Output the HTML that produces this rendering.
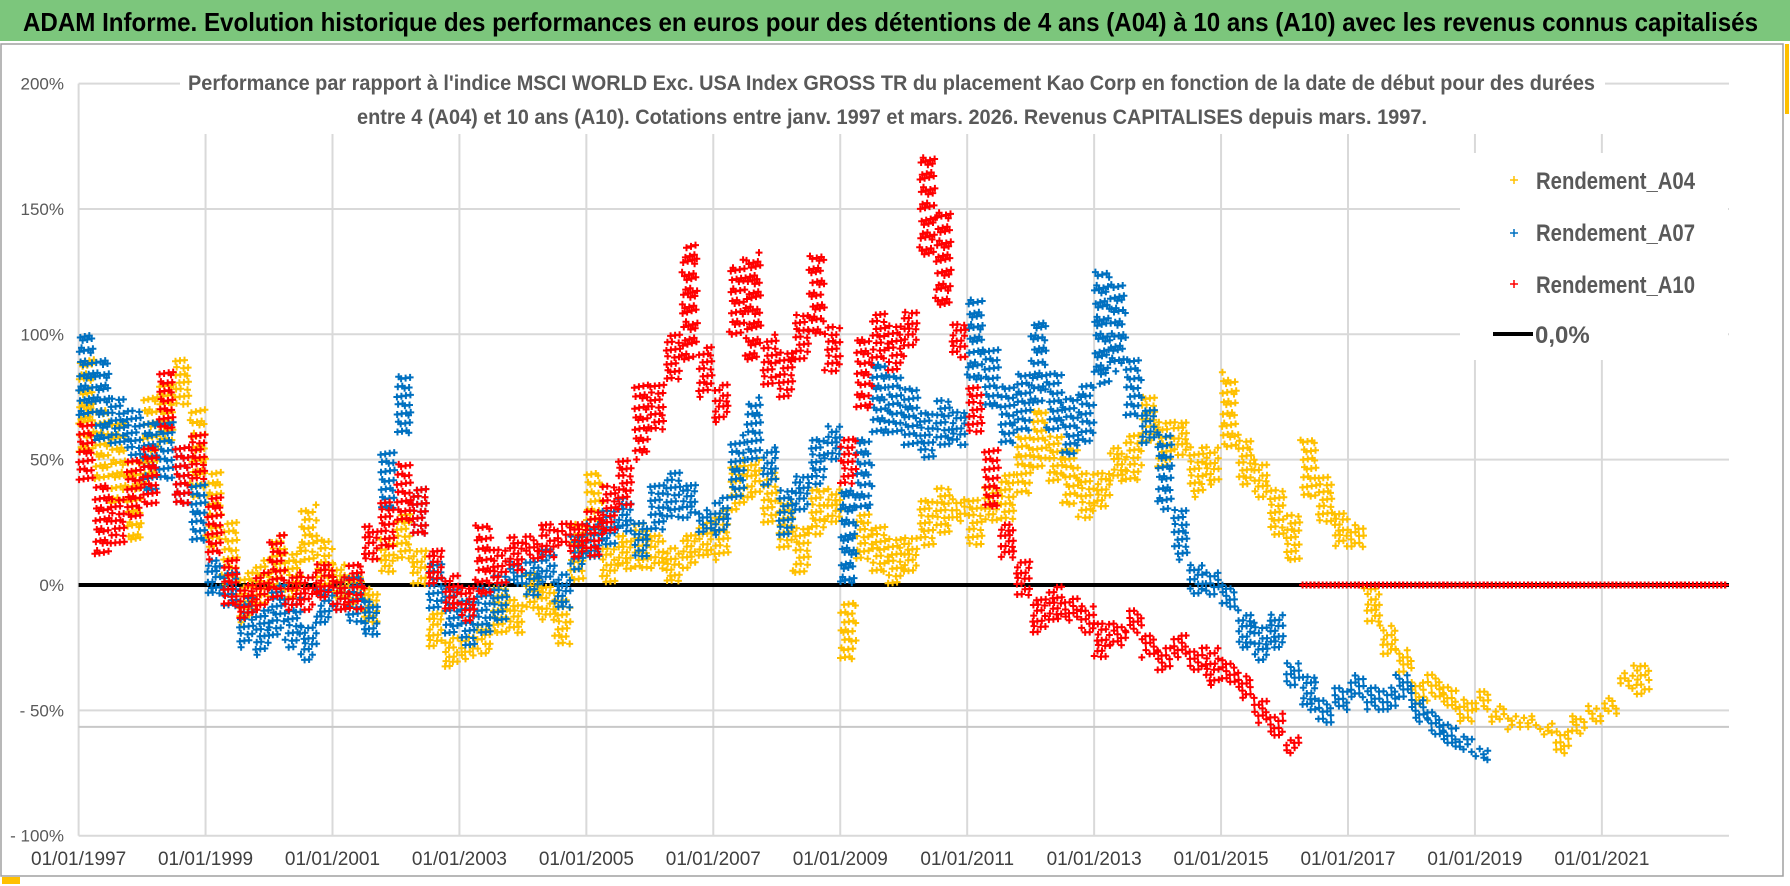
<!DOCTYPE html>
<html><head><meta charset="utf-8"><title>ADAM Informe</title>
<style>
html,body{margin:0;padding:0;background:#fff;}
svg{display:block;}
text{font-family:"Liberation Sans Narrow","Liberation Sans",sans-serif;}
</style></head>
<body>
<svg id="chart" width="1790" height="886" viewBox="0 0 1790 886" xmlns="http://www.w3.org/2000/svg">
<rect x="0" y="0" width="1790" height="886" fill="#fff"/>
<rect x="0" y="0" width="1790" height="41" fill="#7CC67C"/>
<text x="23" y="31" font-size="26" font-weight="bold" fill="#000" textLength="1735" lengthAdjust="spacingAndGlyphs">ADAM Informe. Evolution historique des performances en euros pour des détentions de 4 ans (A04) à 10 ans (A10) avec les revenus connus capitalisés</text>
<rect x="1" y="44" width="1782" height="832" fill="none" stroke="#A0A0A0" stroke-width="1.5"/>
<rect x="1785" y="44" width="4" height="70" fill="#FFC000"/>
<rect x="2" y="877" width="18" height="7" fill="#FFC000"/>
<g id="grid"></g>
<g id="plot"></g>
<g id="axes"></g>
<rect x="180" y="64" width="1425" height="70" fill="#fff"/>
<text x="188" y="90" font-size="21" font-weight="bold" fill="#595959" textLength="1407" lengthAdjust="spacingAndGlyphs">Performance par rapport à l'indice MSCI WORLD Exc. USA Index GROSS TR  du placement Kao Corp en fonction de la date de début pour des durées</text>
<text x="357" y="124" font-size="21" font-weight="bold" fill="#595959" textLength="1070" lengthAdjust="spacingAndGlyphs">entre 4 (A04) et 10 ans (A10).  Cotations entre janv. 1997 et mars. 2026.  Revenus CAPITALISES depuis mars. 1997.</text>
<g>
<rect x="1460" y="153" width="268" height="207" fill="#fff"/>
<g><path d="M1510 180h8M1514 176v8" stroke="#FFC000" stroke-width="1.5"/><text x="1536" y="189" font-size="24" font-weight="bold" fill="#595959" textLength="159" lengthAdjust="spacingAndGlyphs">Rendement_A04</text></g>
<g><path d="M1510 233h8M1514 229v8" stroke="#0070C0" stroke-width="1.5"/><text x="1536" y="241" font-size="24" font-weight="bold" fill="#595959" textLength="159" lengthAdjust="spacingAndGlyphs">Rendement_A07</text></g>
<g><path d="M1510 284h8M1514 280v8" stroke="#FF0000" stroke-width="1.5"/><text x="1536" y="293" font-size="24" font-weight="bold" fill="#595959" textLength="159" lengthAdjust="spacingAndGlyphs">Rendement_A10</text></g>
<g><line x1="1493" y1="334" x2="1533" y2="334" stroke="#000" stroke-width="4"/><text x="1535" y="343" font-size="24" font-weight="bold" fill="#595959">0,0%</text></g>
</g>
</svg>
<script>
const yTicks=[200,150,100,50,0,-50,-100];
const yTickLabels=["200%","150%","100%","50%","0%","- 50%","- 100%"];
const xTickYears=[1997,1999,2001,2003,2005,2007,2009,2011,2013,2015,2017,2019,2021];
const xTickLabels=["01/01/1997","01/01/1999","01/01/2001","01/01/2003","01/01/2005","01/01/2007","01/01/2009","01/01/2011","01/01/2013","01/01/2015","01/01/2017","01/01/2019","01/01/2021"];
const startYear=1997;
const refLineValue=-56.6;
// A04 quarterly ranges starting 1997 Q1
const a04Lo=[50,40,30,15, 40,55,70,35, 15,0,-15,-10, 0,-5,10,0, -5,-10,-15,5, 10,0,-25,-33, -30,-28,-20,-20, -10,-15,-25,0, 20,0,5,5, 5,0,5,10, 10,30,35,25, 15,5,20,25, -30,10,5,0, 5,15,20,25, 15,25,25,35, 45,40,30,25, 30,40,40,55, 45,50,35,40, 55,40,35,20, 10,35,25,15, 15,-15,-28,-35, -48,-45,-50,-55, -50,-55,-58,-57, -60,-68,-60,-55, -52,-42,-45];
const a04Hi=[90,70,65,50, 75,80,90,70, 45,25,5,10, 20,15,32,20, 10,5,0,20, 30,15,-10,-20, -20,-15,0,-5, 5,0,-5,25, 45,15,20,25, 20,15,20,25, 30,50,50,45, 35,25,40,40, -5,30,25,20, 20,35,40,35, 35,40,45,60, 70,60,55,45, 45,55,60,75, 65,65,55,55, 85,60,50,40, 30,60,45,30, 25,0,-15,-25, -38,-35,-40,-45, -42,-48,-52,-52, -55,-58,-52,-48, -45,-35,-32];
// A07
const a07Lo=[65,55,55,50, 35,40,30,15, -5,-10,-25,-28, -20,-25,-30,-15, -10,-15,-20,30, 60,20,-10,-20, -25,-20,-15,0, -5,0,-10,5, 10,15,20,10, 20,25,25,20, 20,35,50,40, 20,30,40,50, 0,30,60,60, 55,50,55,55, 80,70,55,60, 70,60,50,55, 80,85,65,55, 30,10,-5,-5, -10,-25,-30,-25, -40,-50,-55,-50, -45,-50,-50,-45, -55,-60,-65,-67, -70];
const a07Hi=[100,90,75,70, 65,65,55,40, 10,5,-5,-10, 0,-5,-15,0, 5,5,-5,55, 85,40,10,0, -5,0,5,10, 10,15,5,20, 25,30,35,25, 40,45,40,30, 35,60,75,55, 40,45,60,65, 40,60,90,85, 80,70,75,70, 115,95,80,85, 105,85,75,80, 125,120,90,70, 60,30,8,5, 0,-10,-15,-10, -30,-35,-45,-40, -35,-40,-40,-35, -45,-50,-55,-60, -65];
// A10 (zero after 2016 Q1)
const a10Lo=[40,10,15,25, 30,60,30,40, 10,-10,-15,-10, -5,-10,-10,-5, -10,-10,10,15, 25,20,0,-10, -15,-5,0,5, 10,10,15,10, 10,20,30,50, 60,80,90,75, 65,100,90,80, 75,90,100,85, 40,70,90,85, 95,130,110,90, 60,30,10,-5, -20,-15,-15,-20, -30,-25,-20,-30, -35,-30,-35,-40, -40,-45,-55,-60, -67, 0,0,0, 0,0,0,0, 0,0,0,0, 0,0,0,0, 0,0,0,0, 0,0,0,0, 0,0,0,0];
const a10Hi=[65,40,35,50, 55,85,55,60, 35,10,0,5, 20,5,5,10, 5,10,25,35, 50,40,15,5, 0,25,15,20, 20,25,25,25, 30,40,50,80, 80,100,136,95, 80,130,133,100, 95,110,134,105, 60,100,110,105, 110,172,150,105, 80,55,25,10, -5,0,-5,-8, -15,-15,-10,-20, -25,-20,-25,-25, -30,-35,-45,-50, -60, 0,0,0, 0,0,0,0, 0,0,0,0, 0,0,0,0, 0,0,0,0, 0,0,0,0, 0,0,0,0];

const NS="http://www.w3.org/2000/svg";
const X0=78.6, PPY=63.47, XR=1729;
const Y0=585, PPP=2.507;
function xS(year){return X0+(year-startYear)*PPY;}
function yS(v){return Y0-v*PPP;}
function mk(tag,attrs,parent){const e=document.createElementNS(NS,tag);for(const k in attrs)e.setAttribute(k,attrs[k]);parent.appendChild(e);return e;}
const grid=document.getElementById('grid');
const axes=document.getElementById('axes');
const plot=document.getElementById('plot');
yTicks.forEach((v,i)=>{
  const l=mk('line',{x1:X0,x2:XR,y1:yS(v),y2:yS(v),stroke:'#D9D9D9','stroke-width':2},grid);
  
  
  const t=mk('text',{x:64,y:yS(v)+6,'font-size':17,fill:'#595959','text-anchor':'end'},axes);
  t.textContent=yTickLabels[i];
  
  
});
xTickYears.forEach((yr,i)=>{
  const l=mk('line',{x1:xS(yr),x2:xS(yr),y1:yS(200),y2:yS(-100),stroke:'#D9D9D9','stroke-width':2},grid);
  
  
  const t=mk('text',{x:xS(yr),y:865,'font-size':19,fill:'#404040','text-anchor':'middle'},axes);
  t.textContent=xTickLabels[i];
  
  
});
const ref=mk('line',{x1:X0,x2:XR,y1:yS(refLineValue),y2:yS(refLineValue),stroke:'#C8C8C8','stroke-width':2},grid);


const zl=mk('line',{x1:X0,x2:XR,y1:yS(0),y2:yS(0),stroke:'#000','stroke-width':4},plot);



const G1=0.7548776662, G2=0.5698402910;
function drawSeries(lo,hi,color,name){
  const g=mk('g',{},plot);
  
  
  let d='';
  for(let q=0;q<lo.length;q++){
    const t0=startYear+q*0.25;
    const ya=yS(hi[q]), yb=yS(lo[q]);
    const span=yb-ya;
    const n=Math.max(6,Math.ceil(span/2.2));
    for(let i=0;i<n;i++){
      const fx=(0.5+(i+q*3)*G1)%1;
      const fy=(0.5+(i+q*3)*G2)%1;
      const x=xS(t0+0.25*fx);
      const y=ya+fy*span;
      d+='M'+(x-3.5).toFixed(1)+' '+y.toFixed(1)+'h7M'+x.toFixed(1)+' '+(y-3.5).toFixed(1)+'v7';
    }
  }
  const p=mk('path',{d:d,stroke:color,'stroke-width':2,fill:'none'},g);
  
  
}
drawSeries(a04Lo,a04Hi,'#FFC000','series-a04');
drawSeries(a07Lo,a07Hi,'#0070C0','series-a07');
drawSeries(a10Lo,a10Hi,'#FF0000','series-a10');
</script>
</body></html>
